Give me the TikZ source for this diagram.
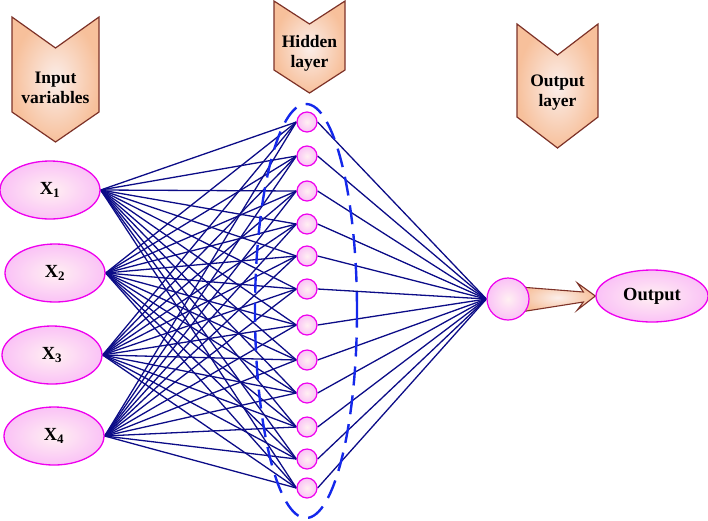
\documentclass[tikz,border=0pt]{standalone}
\usepackage{fontspec}
\setmainfont{Liberation Serif}
\usepackage{xcolor}
\usetikzlibrary{shapes,positioning,backgrounds,calc}
\definecolor{chevbrown}{RGB}{125,50,40}
\definecolor{peachout}{RGB}{247,192,155}
\definecolor{peachin}{RGB}{251,238,234}
\definecolor{nodemagenta}{RGB}{238,0,238}
\definecolor{pinkout}{RGB}{250,194,246}
\definecolor{pinkin}{RGB}{255,240,242}
\definecolor{linknavy}{RGB}{12,12,135}
\definecolor{fenceblue}{RGB}{20,40,235}

\begin{document}
\begin{tikzpicture}[
    x=1pt, y=-1pt,
    chevron/.style={draw=chevbrown, line width=1.2pt, shading=radial, inner color=peachin, outer color=peachout},
    chevtext/.style={font=\bfseries\fontsize{17.5}{20}\selectfont, align=center, inner sep=0pt},
    invar/.style={ellipse, draw=nodemagenta, line width=1.3pt, shading=radial, inner color=pinkin, outer color=pinkout, minimum width=100pt, minimum height=58pt, font=\bfseries\fontsize{18.5}{20}\selectfont},
    neuron/.style={circle, draw=nodemagenta, line width=1.2pt, shading=radial, inner color=pinkin, outer color=pinkout, minimum size=20pt, inner sep=0pt},
    link/.style={draw=linknavy, line width=1.3pt},
    fence/.style={ellipse, draw=fenceblue, line width=2.4pt, dash pattern=on 19pt off 10pt, minimum width=102pt, minimum height=414pt},
    fatarrow/.style={draw=chevbrown, line width=1.1pt, line join=miter, shading=radial, inner color=peachin, outer color=peachout}
]
\useasboundingbox (0,0) rectangle (708,520);

% Layer headers
\draw[chevron] (12,17) -- (55.5,48) -- (99,17) -- (99,112) -- (55.5,142) -- (12,112) -- cycle;
\node[chevtext] (inputlabel) at (55.5,88) {Input\\variables};

\draw[chevron] (274,1) -- (309.5,24) -- (345,1) -- (345,70) -- (309.5,93) -- (274,70) -- cycle;
\node[chevtext] (hiddenlabel) at (309.5,53) {Hidden\\layer};

\draw[chevron] (517,24) -- (557.5,55) -- (598,24) -- (598,117) -- (557.5,148) -- (517,117) -- cycle;
\node[chevtext] (outputlabel) at (557.5,93) {Output\\layer};

% Input variables
\node[invar] (x1) at (50,190) {X\textsubscript{1}};
\node[invar] (x2) at (55,273) {X\textsubscript{2}};
\node[invar] (x3) at (52,355) {X\textsubscript{3}};
\node[invar] (x4) at (54,436) {X\textsubscript{4}};

% Hidden layer
\foreach \j/\y in {1/122,2/156,3/191,4/224,5/256,6/289,7/325,8/360,9/393,10/427,11/459,12/488}
    \node[neuron] (h\j) at (307,\y) {};

% Output layer
\node[neuron, minimum size=42pt] (on) at (508,299) {};
\node[invar, minimum width=112pt, minimum height=52pt] (outp) at (652,296) {Output};

% Connections
\begin{scope}[on background layer]
\foreach \i in {1,...,4}
    \foreach \j in {1,...,12}
        \draw[link] (x\i.east) -- (h\j.west);
\foreach \j in {1,...,12}
    \draw[link] (h\j.east) -- (on.west);
\node[fence] (hiddenfence) at (306,311) {};
\draw[fatarrow] ($(on.center)+(12,-12)$) -- ($(outp.west)+(-12,-4)$) -- ($(outp.west)+(-18,-13)$)
    -- (outp.west) -- ($(outp.west)+(-18,14)$) -- ($(outp.west)+(-12,6)$) -- ($(on.center)+(12,13)$) -- cycle;
\end{scope}

\end{tikzpicture}
\end{document}
